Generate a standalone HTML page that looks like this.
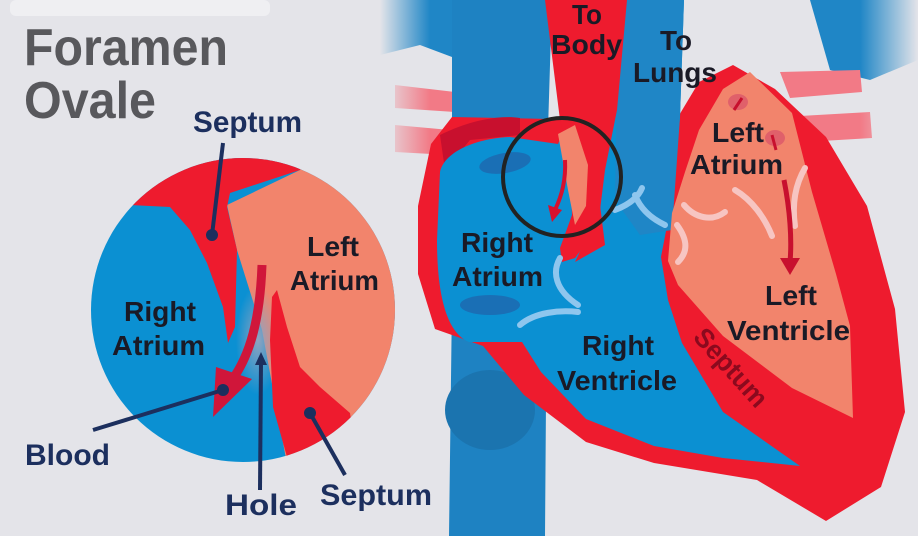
<!DOCTYPE html>
<html><head><meta charset="utf-8"><style>
html,body{margin:0;padding:0;background:#e4e4e9;}
svg{display:block;}
text{font-family:"Liberation Sans",sans-serif;font-weight:bold;}
</style></head><body>
<svg width="918" height="536" viewBox="0 0 918 536" xmlns="http://www.w3.org/2000/svg">
<defs>
<clipPath id="cc"><circle cx="243" cy="310" r="152"/></clipPath>
<radialGradient id="hole" cx="0.5" cy="0.5" r="0.5">
<stop offset="0" stop-color="#8fa3c0"/><stop offset="1" stop-color="#8fa3c0" stop-opacity="0"/></radialGradient>
<linearGradient id="fadeL" x1="0" x2="1"><stop offset="0" stop-color="#e4e4e9"/><stop offset="1" stop-color="#e4e4e9" stop-opacity="0"/></linearGradient>
<linearGradient id="fadeR" x1="1" x2="0"><stop offset="0" stop-color="#e4e4e9"/><stop offset="1" stop-color="#e4e4e9" stop-opacity="0"/></linearGradient>
</defs>
<rect width="918" height="536" fill="#e4e4e9"/>
<rect x="10" y="0" width="260" height="16" rx="6" fill="#efeff2"/>

<path d="M380,0 L460,0 L460,60 L420,45 L380,55 Z" fill="#1f86c6"/>
<path d="M395,85 L455,92 L455,112 L395,108 Z" fill="#f27a86"/>
<path d="M395,125 L450,130 L450,155 L395,152 Z" fill="#f27a86"/>
<rect x="380" y="0" width="50" height="160" fill="url(#fadeL)"/>
<path d="M810,0 L918,0 L918,60 L870,80 L830,70 Z" fill="#1f86c6"/>
<path d="M780,72 L860,70 L862,92 L790,98 Z" fill="#f27a86"/>
<path d="M800,116 L870,112 L872,138 L805,142 Z" fill="#f27a86"/>
<rect x="860" y="0" width="58" height="160" fill="url(#fadeR)"/>

<path d="M452,0 L552,0 L548,130 L545,536 L449,536 L452,300 Z" fill="#1e82c2"/>
<ellipse cx="490" cy="410" rx="45" ry="40" fill="#1b74af"/>

<path d="M452,117 L431,144 L418,206 L418,274 L435,329 L483,346 L524,395 L586,442 L654,463 L757,480 L826,521 L881,487 L905,412 L895,309 L867,206 L826,137 L775,89 L733,65 L699,82 L678,117 L600,120 Z" fill="#ee1b2e"/>
<path d="M440,135 C470,120 500,115 520,118 L520,135 L470,140 L445,170 Z" fill="#c8102e"/>

<path d="M440,172 C445,150 480,138 510,137 L558,144 L618,0 L684,0 L680,117 L672,200 L661,257 L668,300 L682,343 L723,412 L800,466 L723,458 L654,446 L586,419 L541,372 L522,342 L469,342 C445,332 437,290 437,240 Z" fill="#0b90d2"/>
<path d="M618,0 L684,0 L680,117 L672,230 L640,235 L615,200 Z" fill="#1f86c6"/>

<path d="M545,0 L627,0 L617,110 L605,170 L600,210 L592,235 L575,258 L562,262 L560,248 L572,215 L570,160 L560,120 Z" fill="#ee1b2e"/>
<path d="M558,134 L575,125 L588,165 L586,206 L575,225 L568,190 Z" fill="#f2846c"/>
<path d="M590,230 L600,205 L605,245 L575,262 Z" fill="#ee1b2e"/>

<path d="M723,89 L750,72 L792,113 L812,192 L836,274 L850,326 L853,418 L792,388 L723,336 L678,285 L668,261 L672,213 L685,172 L699,130 Z" fill="#f2846c"/>

<ellipse cx="505" cy="163" rx="26" ry="10" transform="rotate(-10 505 163)" fill="#1a6fb5"/>
<ellipse cx="490" cy="305" rx="30" ry="10" fill="#1a6fb5"/>

<g fill="none" stroke-linecap="round" stroke-width="6">
<path d="M615,210 C628,205 638,198 642,188" stroke="#8ec6ee"/>
<path d="M635,195 C640,208 650,218 665,225" stroke="#8ec6ee"/>
<path d="M560,258 C552,272 555,290 578,305" stroke="#8ec6ee"/>
<path d="M520,325 C535,312 560,310 578,312" stroke="#8ec6ee"/>
<path d="M684,205 C695,218 712,222 725,212" stroke="#f7c5c2"/>
<path d="M735,190 C752,200 765,218 772,236" stroke="#f7c5c2"/>
<path d="M805,168 C795,185 792,205 795,226" stroke="#f7c5c2"/>
<path d="M677,225 C688,240 688,252 678,262" stroke="#f7c5c2"/>
</g>

<path d="M784,180 C790,210 792,240 790,262" stroke="#c8102e" stroke-width="5" fill="none"/>
<polygon points="780,258 800,258 790,275" fill="#c8102e"/>
<ellipse cx="738" cy="102" rx="10" ry="8" fill="#e0606a"/>
<ellipse cx="775" cy="138" rx="10" ry="8" fill="#e0606a"/>
<path d="M742,98 L734,110" stroke="#c8102e" stroke-width="3"/>
<path d="M772,135 L776,150" stroke="#c8102e" stroke-width="3"/>
<path d="M565,160 C566,180 562,195 555,210" stroke="#d7102e" stroke-width="4" fill="none"/>
<polygon points="548,205 562,210 552,222" fill="#d7102e"/>

<circle cx="562" cy="177" r="59" fill="none" stroke="#222" stroke-width="4"/>

<g fill="#1a1a26" font-size="28" lengthAdjust="spacingAndGlyphs">
<text x="572" y="24" textLength="30" lengthAdjust="spacingAndGlyphs">To</text>
<text x="551" y="54" textLength="71" lengthAdjust="spacingAndGlyphs">Body</text>
<text x="660" y="50" textLength="32" lengthAdjust="spacingAndGlyphs">To</text>
<text x="633" y="82" textLength="84" lengthAdjust="spacingAndGlyphs">Lungs</text>
<text x="712" y="142" textLength="52" lengthAdjust="spacingAndGlyphs">Left</text>
<text x="690" y="174" textLength="93" lengthAdjust="spacingAndGlyphs">Atrium</text>
<text x="461" y="252" textLength="72" lengthAdjust="spacingAndGlyphs">Right</text>
<text x="452" y="286" textLength="91" lengthAdjust="spacingAndGlyphs">Atrium</text>
<text x="765" y="305" textLength="52" lengthAdjust="spacingAndGlyphs">Left</text>
<text x="727" y="340" textLength="123" lengthAdjust="spacingAndGlyphs">Ventricle</text>
<text x="582" y="355" textLength="72" lengthAdjust="spacingAndGlyphs">Right</text>
<text x="557" y="390" textLength="120" lengthAdjust="spacingAndGlyphs">Ventricle</text>
</g>
<text x="692" y="338" font-size="27" fill="#8b0a1e" transform="rotate(48 692 338)" textLength="96" lengthAdjust="spacingAndGlyphs">Septum</text>

<g clip-path="url(#cc)">
<rect x="80" y="150" width="330" height="330" fill="#0b90d2"/>
<path d="M227,205 L300,170 L320,140 L420,140 L420,480 L290,480 L275,400 L262,330 L237,250 Z" fill="#f2846c"/>
<ellipse cx="258" cy="340" rx="22" ry="55" fill="url(#hole)"/>
<path d="M80,140 L320,140 L300,170 L230,193 L227,207 L237,250 L235,327 L228,343 L223,307 L207,263 L190,230 L170,207 L130,205 L80,205 Z" fill="#ee1b2e"/>
<path d="M272,297 L277,290 L287,327 L300,367 L320,387 L350,413 L360,480 L287,480 L287,457 L273,407 L270,340 Z" fill="#ee1b2e"/>
<path d="M262,265 C260,320 250,355 232,380" stroke="#d0163a" stroke-width="9" fill="none"/>
<polygon points="216,367 252,379 213,417" fill="#d0163a"/>
</g>
<g fill="#1a1a26" font-size="28">
<text x="307" y="256" textLength="52" lengthAdjust="spacingAndGlyphs">Left</text>
<text x="290" y="290" textLength="89" lengthAdjust="spacingAndGlyphs">Atrium</text>
<text x="124" y="321" textLength="72" lengthAdjust="spacingAndGlyphs">Right</text>
<text x="112" y="355" textLength="93" lengthAdjust="spacingAndGlyphs">Atrium</text>
</g>

<g stroke="#1c2f5e" stroke-width="4" fill="#1c2f5e">
<line x1="223" y1="143" x2="212" y2="235"/><circle cx="212" cy="235" r="4"/>
<line x1="93" y1="430" x2="223" y2="390"/><circle cx="223" cy="390" r="4"/>
<line x1="260" y1="490" x2="261" y2="362"/>
<line x1="345" y1="475" x2="310" y2="413"/><circle cx="310" cy="413" r="4"/>
</g>
<polygon points="255,365 267,365 261,352" fill="#1c2f5e"/>

<text x="24" y="65" font-size="52" fill="#58585c" textLength="204" lengthAdjust="spacingAndGlyphs">Foramen</text>
<text x="24" y="118" font-size="52" fill="#58585c" textLength="132" lengthAdjust="spacingAndGlyphs">Ovale</text>
<g fill="#1c2f5e" font-size="30">
<text x="193" y="132" textLength="109" lengthAdjust="spacingAndGlyphs">Septum</text>
<text x="25" y="465" textLength="85" lengthAdjust="spacingAndGlyphs">Blood</text>
<text x="225" y="515" textLength="72" lengthAdjust="spacingAndGlyphs">Hole</text>
<text x="320" y="505" textLength="112" lengthAdjust="spacingAndGlyphs">Septum</text>
</g>
</svg>
</body></html>
